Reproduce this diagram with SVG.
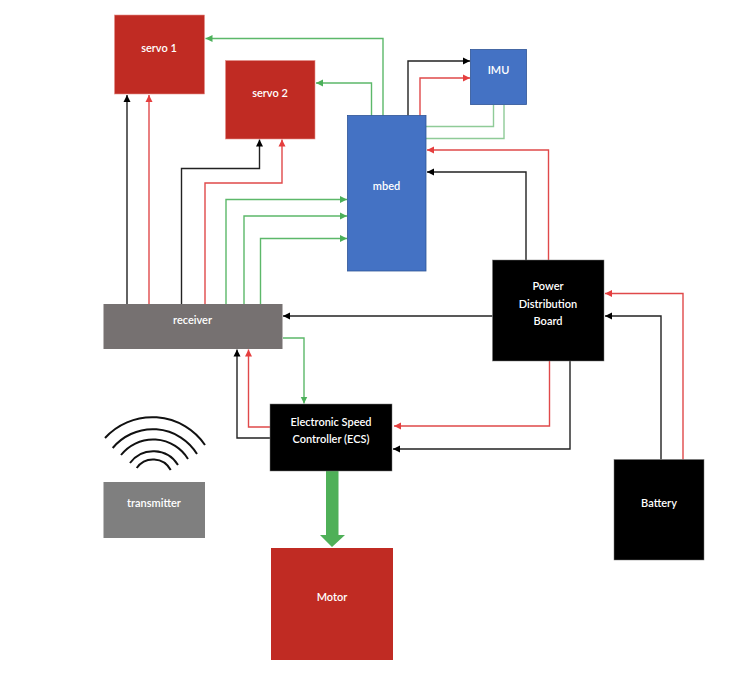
<svg xmlns="http://www.w3.org/2000/svg" width="753" height="679" viewBox="0 0 753 679">
<style>
text{font-family:Lato,"Liberation Sans",sans-serif;font-size:11px;font-weight:600;fill:#fff;text-anchor:middle}
.c{fill:none;stroke-width:1.4;stroke-linejoin:miter}
.k{stroke:#222}.r{stroke:#e0494a}.g{stroke:#5cb86a}.l{stroke:#8fcb98}
.a{fill:none;stroke:#111;stroke-width:2;stroke-linecap:butt}
.red{fill:#c02b23;stroke:#e58f8b;stroke-width:.6}.blue{fill:#4472c4;stroke:#2f5597;stroke-width:.8}.blk{fill:#000;stroke:#777;stroke-width:.5}
</style>
<defs>
<marker id="mk" markerUnits="userSpaceOnUse" markerWidth="8" markerHeight="8" refX="7" refY="4" orient="auto"><path d="M0 .5L7 4L0 7.500z" fill="#000"/></marker>
<marker id="mr" markerUnits="userSpaceOnUse" markerWidth="8" markerHeight="8" refX="7" refY="4" orient="auto"><path d="M0 .5L7 4L0 7.500z" fill="#e53e3e"/></marker>
<marker id="mg" markerUnits="userSpaceOnUse" markerWidth="8" markerHeight="8" refX="7" refY="4" orient="auto"><path d="M0 .5L7 4L0 7.500z" fill="#4cb05a"/></marker>
</defs>
<g id="connectors">
<path class="c g" d="M383 115.500V38.500H205.500" marker-end="url(#mg)"/>
<path class="c g" d="M371.500 115.500V83H316" marker-end="url(#mg)"/>
<path class="c k" d="M127 304V95" marker-end="url(#mk)"/>
<path class="c r" d="M149 304V95" marker-end="url(#mr)"/>
<path class="c k" d="M181.500 304V168.500H259.500V139.500" marker-end="url(#mk)"/>
<path class="c r" d="M205 304V183H282V139.500" marker-end="url(#mr)"/>
<path class="c g" d="M226 304V199.500H347" marker-end="url(#mg)"/>
<path class="c g" d="M244 304V216H347" marker-end="url(#mg)"/>
<path class="c g" d="M260.500 304V238.500H347" marker-end="url(#mg)"/>
<path class="c k" d="M408 115.500V61H470" marker-end="url(#mk)"/>
<path class="c r" d="M420 115.500V78H470" marker-end="url(#mr)"/>
<path class="c l" d="M493.500 105V126.500H426"/>
<path class="c l" d="M504 105V138.500H426"/>
<path class="c r" d="M548.500 260V150H427" marker-end="url(#mr)"/>
<path class="c k" d="M526 260V172H427" marker-end="url(#mk)"/>
<path class="c k" d="M492.500 316H283" marker-end="url(#mk)"/>
<path class="c k" d="M661 459.500V316H605" marker-end="url(#mk)"/>
<path class="c r" d="M683 459.500V293.500H605" marker-end="url(#mr)"/>
<path class="c r" d="M549.500 361V426H394" marker-end="url(#mr)"/>
<path class="c k" d="M570 361V449H393" marker-end="url(#mk)"/>
<path class="c g" d="M283 338H304V403.500" marker-end="url(#mg)"/>
<path class="c r" d="M270 427H248.500V349.500" marker-end="url(#mr)"/>
<path class="c k" d="M270 438H237V349.500" marker-end="url(#mk)"/>
<path d="M326 471H338.500V535H345L332 547L320 535H326z" fill="#4fb058"/>
</g>
<g id="servo1"><rect class="red" x="114.500" y="15" width="90" height="79"/><text x="159" y="52">servo 1</text></g>
<g id="servo2"><rect class="red" x="225.500" y="60.500" width="89.500" height="78.500"/><text x="270" y="97">servo 2</text></g>
<g id="mbed"><rect class="blue" x="347.500" y="115.500" width="78.500" height="155.500"/><text x="386.500" y="190">mbed</text></g>
<g id="imu"><rect class="blue" x="470.500" y="49.500" width="56" height="55"/><text x="498.500" y="74">IMU</text></g>
<g id="pdb"><rect class="blk" x="492.500" y="260" width="111.500" height="101"/><text x="548" y="290">Power</text><text x="548" y="308">Distribution</text><text x="548" y="325">Board</text></g>
<g id="receiver"><rect x="103.500" y="304" width="179" height="45" fill="#767171"/><text x="192.500" y="324">receiver</text></g>
<g id="ecs"><rect class="blk" x="270" y="404" width="122" height="67"/><text x="331" y="426">Electronic Speed</text><text x="331" y="443">Controller (ECS)</text></g>
<g id="transmitter"><rect x="103.500" y="482" width="101.500" height="56" fill="#7f7f7f"/><text x="154" y="507">transmitter</text></g>
<g id="signal">
<path class="a" d="M105 438A64 64 0 0 1 205 445"/>
<path class="a" d="M112.700 448A52 52 0 0 1 197 454"/>
<path class="a" d="M121 455A41 41 0 0 1 188 459"/>
<path class="a" d="M130 463A29 29 0 0 1 178 465"/>
<path class="a" d="M136.700 468A20 20 0 0 1 170.700 470"/>
</g>
<g id="motor"><rect x="271" y="548" width="122" height="112" fill="#c02b23"/><text x="332" y="601">Motor</text></g>
<g id="battery"><rect class="blk" x="614" y="459.500" width="90" height="100.500"/><text x="659" y="507">Battery</text></g>
</svg>
